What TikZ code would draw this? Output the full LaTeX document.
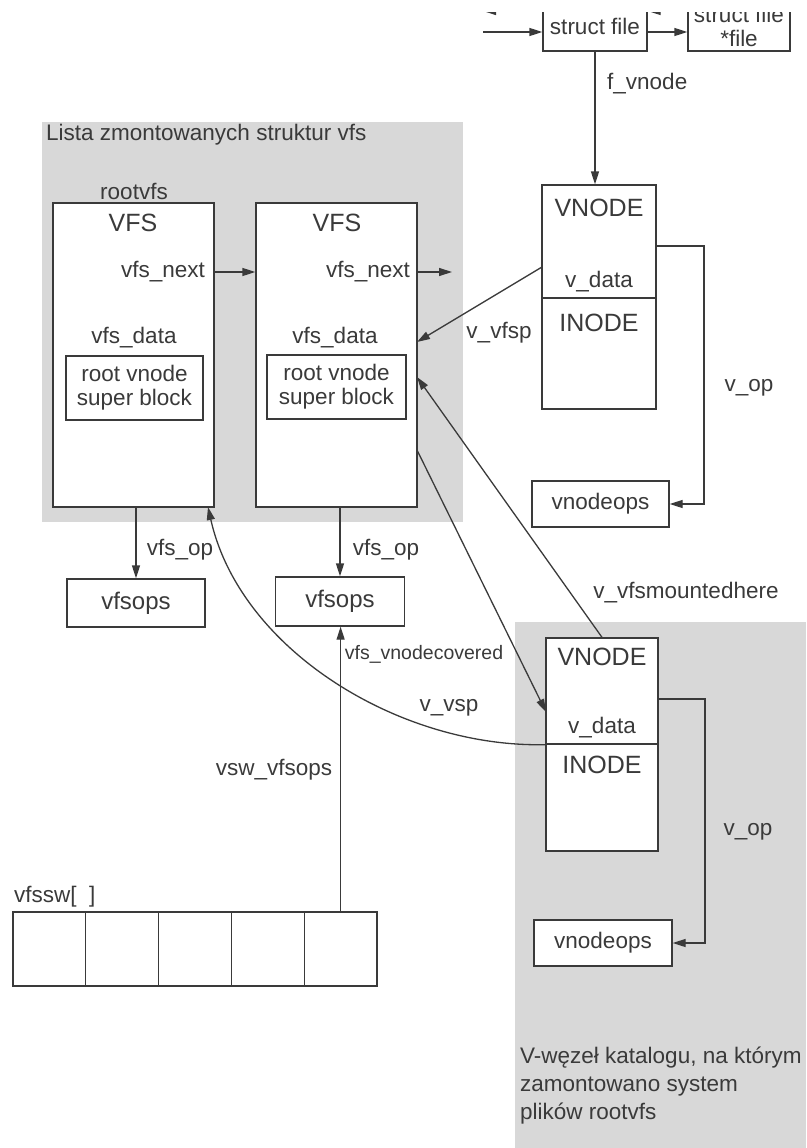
\documentclass[tikz,border=0pt]{standalone}
\usepackage{fontspec}
\setmainfont{Liberation Sans}
\usetikzlibrary{arrows.meta}
\definecolor{ink}{HTML}{3A3A3A}
\definecolor{bgshade}{HTML}{D8D8D8}
\begin{document}
\begin{tikzpicture}[x=1pt,y=-1pt,
  box/.style={draw=ink, line width=1.3pt, fill=white, inner sep=0pt, rectangle, text=ink, font=\fontsize{22.5}{24}\selectfont, align=center},
  lbl/.style={text=ink, font=\fontsize{22.5}{26}\selectfont, inner sep=0pt},
  big/.style={text=ink, font=\fontsize{25}{29}\selectfont, inner sep=0pt},
  arr/.style={draw=ink, line width=1.3pt, -{Triangle[length=13pt,width=8pt]}},
  ln/.style={draw=ink, line width=1.3pt}]
\useasboundingbox (0,0) rectangle (806,1148);
\begin{scope}
\clip (0,13) rectangle (806,1148);
% shaded regions
\fill[bgshade] (42,122) rectangle (463,522);
\fill[bgshade] (515,622) rectangle (806,1148);
\node[lbl, anchor=west] (title1) at (46,135) {Lista zmontowanych struktur vfs};
\node[lbl, anchor=west, align=left, font=\fontsize{22.5}{28}\selectfont] (title2) at (520,1086)
  {V-węzeł katalogu, na którym\\zamontowano system\\plików rootvfs};

% top struct file boxes
\node[box, minimum width=104, minimum height=70] (sf) at (595,16) {};
\node[lbl] (sft) at (595,26) {struct file};
\node[box, minimum width=102, minimum height=70] (ff) at (739,16) {};
\node[lbl, align=center, font=\fontsize{22.5}{24}\selectfont] (fft) at (739,26) {struct file\\*file};
\coordinate (in1) at (483,32);
\coordinate (in2) at (483,11);
\coordinate (up1) at (688,11);
\draw[arr] (in1) -- (sf.west |- in1);
\draw[arr] (sf.west |- in2) -- (in2);
\draw[arr] (sf.east |- in1) -- (ff.west |- in1);
\draw[arr] (up1) -- (sf.east |- up1);

% VFS boxes
\node[box, minimum width=161, minimum height=304] (vfs1) at (133.5,355) {};
\node[box, minimum width=161, minimum height=304] (vfs2) at (336.5,355) {};
\node[lbl] (root) at (134,191) {rootvfs};
\node[big] (vfs1t) at (133,223) {VFS};
\node[big] (vfs2t) at (337,223) {VFS};
\node[lbl, anchor=east] (vn1l) at (205,272) {vfs\_next};
\node[lbl, anchor=east] (vn2l) at (410,272) {vfs\_next};
\node[lbl] (vd1) at (134,338) {vfs\_data};
\node[lbl] (vd2) at (335,338) {vfs\_data};
\node[box, minimum width=137, minimum height=64] (in1b) at (134.5,388) {root vnode\\super block};
\node[box, minimum width=139, minimum height=64] (in2b) at (336.5,387) {root vnode\\super block};
\coordinate (nx) at (452,272);
\draw[arr] (vfs1.east |- vn1l) -- (vfs2.west |- vn1l);
\draw[arr] (vfs2.east |- vn2l) -- (nx);

% vfsops
\node[box, minimum width=138, minimum height=48, font=\fontsize{24}{26}\selectfont] (ops1) at (136,603) {vfsops};
\node[box, minimum width=129, minimum height=49, font=\fontsize{24}{26}\selectfont] (ops2) at (340,601.5) {vfsops};
\draw[arr] (ops1.north |- vfs1.south) -- (ops1.north);
\draw[arr] (ops2.north |- vfs2.south) -- (ops2.north);
\node[lbl] (op1l) at (180,550) {vfs\_op};
\node[lbl] (op2l) at (386,550) {vfs\_op};

% VNODE 1
\node[box, minimum width=114, minimum height=113] (vn1a) at (599,241.5) {};
\node[box, minimum width=114, minimum height=111] (vn1b) at (599,353.5) {};
\node[big] (vn1t) at (599,208) {VNODE};
\node[lbl] (vn1d) at (599,282) {v\_data};
\node[big] (vn1i) at (599,323) {INODE};
\draw[arr] (sf.south) -- (sf.south |- vn1a.north);
\node[lbl, anchor=west] (fvl) at (607,84) {f\_vnode};
\node[box, minimum width=137, minimum height=46] (vops1) at (600.5,504) {vnodeops};
\coordinate (a1) at (656,246);
\coordinate (a1c) at (704,246);
\draw[arr] (a1) -- (a1c) |- (vops1.east);
\node[lbl] (vop1l) at (749,388) {v\_op};
\coordinate (p1) at (542,267);
\coordinate (p2) at (417,342);
\draw[arr] (p1) -- (p2);
\node[lbl] (vfspl) at (499,333) {v\_vfsp};

% VNODE 2
\node[box, minimum width=112, minimum height=106] (vn2a) at (602,691) {};
\node[box, minimum width=112, minimum height=107] (vn2b) at (602,797.5) {};
\node[big] (vn2t) at (602,657) {VNODE};
\node[lbl] (vn2d) at (602,728) {v\_data};
\node[big] (vn2i) at (602,765) {INODE};
\node[box, minimum width=138, minimum height=46] (vops2) at (603,943) {vnodeops};
\coordinate (b1) at (658,699);
\coordinate (b1c) at (705,699);
\draw[arr] (b1) -- (b1c) |- (vops2.east);
\node[lbl] (vop2l) at (748,832) {v\_op};

% cross links
\coordinate (m1) at (417,377);
\draw[arr] (vn2a.north) -- (m1);
\node[lbl] (mntl) at (686,593) {v\_vfsmountedhere};
\coordinate (c1) at (417,450);
\coordinate (c2) at (546,712);
\draw[arr] (c1) -- (c2);
\node[lbl, font=\fontsize{19.5}{22}\selectfont] (covl) at (424,654) {vfs\_vnodecovered};
\coordinate (c3) at (208,507);
\draw[arr] (vn2a.south west) .. controls (400,748) and (240,650) .. (c3);
\node[lbl] (vspl) at (449,708) {v\_vsp};

% vfssw array
\node[lbl, anchor=west] (swl) at (14,897) {vfssw[ \ ]};
\foreach \i/\cx in {1/49.4,2/122.2,3/195,4/267.8,5/340.6}{
  \node[box, minimum width=72.8, minimum height=74] (cell\i) at (\cx,949) {};
}
\draw[arr] (cell5.north) -- (cell5.north |- ops2.south);
\node[lbl] (vswl) at (274,770) {vsw\_vfsops};
\end{scope}
\end{tikzpicture}
\end{document}
